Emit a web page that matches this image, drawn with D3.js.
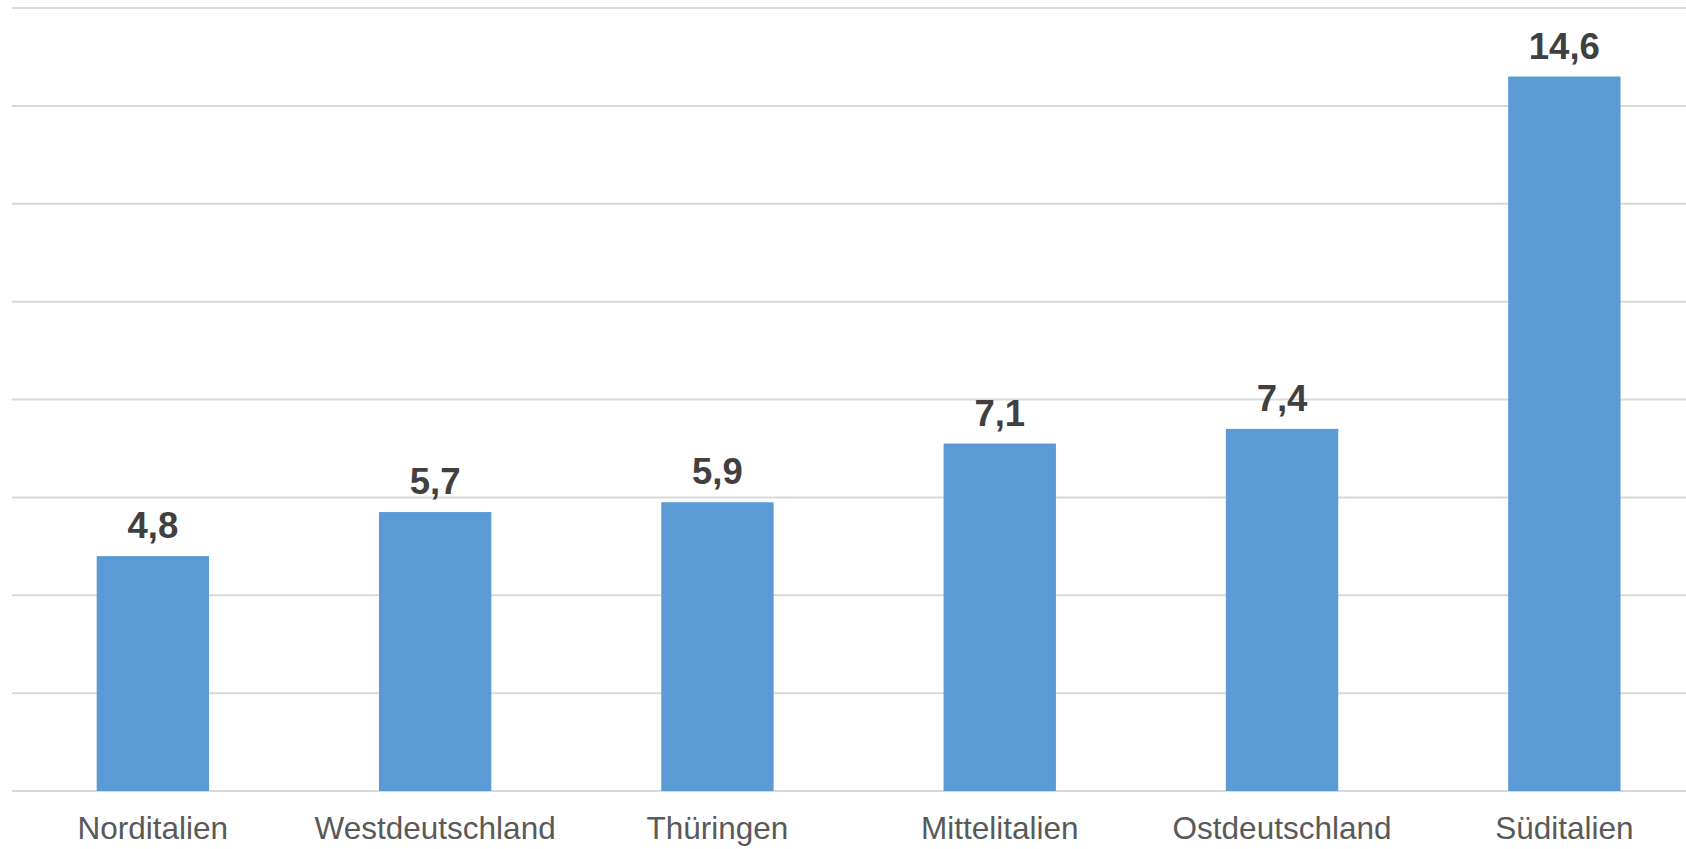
<!DOCTYPE html>
<html><head><meta charset="utf-8">
<script src="https://cdn.jsdelivr.net/npm/d3@7"></script>
<style>html,body{margin:0;padding:0;background:#fff;overflow:hidden}</style>
</head><body>
<svg id="c" width="1686" height="849"></svg>
<script>
const categories = ["Norditalien","Westdeutschland","Thüringen","Mittelitalien","Ostdeutschland","Süditalien"];
const values = [4.8, 5.7, 5.9, 7.1, 7.4, 14.6];
const gridTicks = [0,2,4,6,8,10,12,14,16];

const svg = d3.select("#c");
const x = d3.scaleBand().domain(categories).range([11.7, 1705.5]).paddingInner(0.602).paddingOuter(0.301);
const y = d3.scaleLinear().domain([0,16]).range([791, 8]);

svg.append("g").selectAll("line").data(gridTicks).join("line")
  .attr("x1", 12).attr("x2", 1686)
  .attr("y1", d => y(d)).attr("y2", d => y(d))
  .attr("stroke", "#D9D9D9").attr("stroke-width", 2);

svg.append("g").selectAll("rect").data(values).join("rect")
  .attr("x", (d,i) => x(categories[i]))
  .attr("width", x.bandwidth())
  .attr("y", d => y(d))
  .attr("height", d => y(0) - y(d))
  .attr("fill", "#5B9BD5");

svg.append("g").selectAll("text").data(values).join("text")
  .attr("x", (d,i) => x(categories[i]) + x.bandwidth()/2)
  .attr("y", d => y(d) - 18)
  .attr("text-anchor", "middle")
  .attr("font-family", "Liberation Sans, Arial, sans-serif")
  .attr("font-weight", "bold")
  .attr("font-size", 36.5)
  .attr("fill", "#404040")
  .text(d => d.toFixed(1).replace(".", ","));

svg.append("g").selectAll("text").data(categories).join("text")
  .attr("x", d => x(d) + x.bandwidth()/2)
  .attr("y", 839)
  .attr("text-anchor", "middle")
  .attr("font-family", "Liberation Sans, Arial, sans-serif")
  .attr("font-size", 31.5)
  .attr("fill", "#595959")
  .text(d => d);
</script>
</body></html>
